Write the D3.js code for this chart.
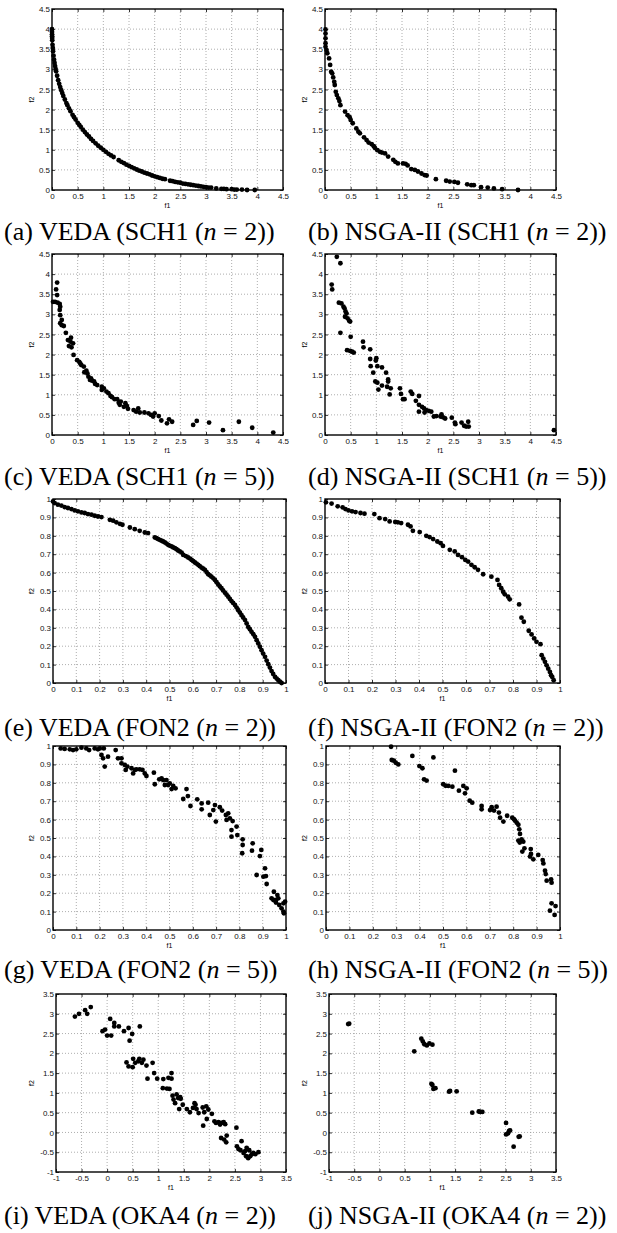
<!DOCTYPE html>
<html>
<head>
<meta charset="utf-8">
<script src="https://cdnjs.cloudflare.com/ajax/libs/d3/7.8.5/d3.min.js"></script>
<style>
body { margin: 0; background: #fff; }
</style>
</head>
<body>
<div id="chart"></div>
<script>
// ---- data: [f1, f2] pairs ----
const vedaSch1n2 = [
  [0,4.0],[0,3.93],[0.001,3.87],[0.002,3.82],[0.003,3.78],[0.005,3.72],[0.01,3.61],[0.015,3.53],[0.02,3.45],
  [0.03,3.34],[0.04,3.24],[0.05,3.16],[0.06,3.08],[0.07,3.01],[0.08,2.95],[0.1,2.84],[0.12,2.73],[0.14,2.64],
  [0.16,2.56],[0.18,2.48],[0.2,2.41],[0.22,2.34],[0.25,2.25],[0.28,2.16],[0.3,2.11],[0.33,2.03],[0.36,1.96],
  [0.4,1.87],[0.43,1.81],[0.46,1.75],[0.5,1.67],[0.53,1.62],[0.56,1.57],[0.6,1.5],[0.64,1.44],[0.68,1.38],
  [0.72,1.33],[0.76,1.27],[0.8,1.22],[0.85,1.16],[0.9,1.1],[0.95,1.05],[1.0,1.0],[1.05,0.95],[1.1,0.9],
  [1.15,0.86],[1.2,0.82],[1.3,0.74],[1.35,0.7],[1.4,0.67],[1.45,0.63],[1.5,0.6],[1.55,0.57],[1.6,0.54],
  [1.65,0.51],[1.7,0.48],[1.75,0.46],[1.8,0.43],[1.85,0.41],[1.9,0.39],[1.95,0.36],[2.0,0.34],[2.05,0.32],
  [2.1,0.3],[2.15,0.28],[2.2,0.27],[2.3,0.23],[2.35,0.22],[2.4,0.2],[2.45,0.19],[2.5,0.18],[2.55,0.16],
  [2.6,0.15],[2.65,0.14],[2.7,0.13],[2.75,0.12],[2.8,0.11],[2.85,0.1],[2.9,0.09],[2.95,0.08],[3.0,0.07],
  [3.05,0.06],[3.1,0.06],[3.2,0.04],[3.3,0.03],[3.35,0.03],[3.4,0.02],[3.5,0.02],[3.55,0.01],[3.6,0.01],
  [3.7,0.01],[3.8,0.0],[3.95,0.0]
];
const nsgaSch1n2 = [
  [0.01,3.99],[0.01,3.89],[0.01,3.77],[0.01,3.65],[0.01,3.56],[0.03,3.48],[0.045,3.4],[0.08,3.27],[0.1,3.11],
  [0.12,2.94],[0.14,2.9],[0.16,2.8],[0.18,2.69],[0.19,2.61],[0.21,2.44],[0.23,2.36],[0.26,2.28],[0.28,2.21],
  [0.3,2.11],[0.39,1.95],[0.44,1.86],[0.48,1.81],[0.5,1.74],[0.54,1.66],[0.61,1.53],[0.65,1.45],[0.68,1.41],
  [0.76,1.31],[0.81,1.24],[0.85,1.18],[0.91,1.14],[0.95,1.09],[0.97,1.05],[1.02,0.99],[1.07,0.95],[1.11,0.93],
  [1.17,0.91],[1.23,0.83],[1.33,0.75],[1.37,0.7],[1.42,0.66],[1.52,0.66],[1.57,0.65],[1.61,0.61],[1.68,0.52],
  [1.75,0.5],[1.81,0.46],[1.88,0.41],[1.94,0.37],[1.98,0.36],[2.16,0.27],[2.36,0.23],[2.43,0.21],[2.52,0.2],
  [2.59,0.18],[2.77,0.14],[2.85,0.12],[2.9,0.12],[3.04,0.07],[3.17,0.06],[3.29,0.04],[3.45,0.02],[3.76,0.0]
];
const vedaSch1n5 = [
  [0.1,3.79],[0.08,3.62],[0.1,3.48],[0.02,3.31],[0.06,3.31],[0.11,3.29],[0.15,3.26],[0.16,3.19],[0.15,3.11],
  [0.16,2.98],[0.19,2.86],[0.16,2.78],[0.19,2.73],[0.23,2.71],[0.27,2.54],[0.31,2.36],[0.36,2.32],[0.37,2.42],
  [0.33,2.21],[0.38,2.18],[0.41,2.28],[0.42,1.99],[0.49,1.86],[0.53,1.82],[0.55,1.78],[0.57,1.74],[0.62,1.7],
  [0.63,1.56],[0.67,1.6],[0.69,1.53],[0.71,1.45],[0.76,1.41],[0.78,1.35],[0.82,1.33],[0.84,1.27],[0.88,1.24],
  [0.74,1.37],[0.97,1.2],[0.97,1.12],[1.01,1.16],[1.06,1.08],[1.1,1.04],[1.14,0.97],[1.17,0.94],[1.22,0.89],
  [1.27,0.89],[1.3,0.8],[1.32,0.75],[1.34,0.83],[1.4,0.7],[1.43,0.79],[1.46,0.72],[1.48,0.65],[1.59,0.62],
  [1.64,0.58],[1.68,0.66],[1.71,0.56],[1.8,0.56],[1.88,0.54],[1.93,0.5],[1.97,0.46],[2.0,0.54],[2.08,0.47],
  [2.13,0.36],[2.24,0.29],[2.28,0.39],[2.34,0.33],[2.75,0.25],[2.82,0.35],[3.06,0.31],[3.33,0.12],[3.64,0.33],
  [3.9,0.18],[4.31,0.06]
];
const nsgaSch1n5 = [
  [0.23,4.43],[0.3,4.27],[0.13,3.74],[0.14,3.62],[0.27,3.29],[0.32,3.27],[0.36,3.19],[0.38,3.15],[0.4,3.07],
  [0.42,3.02],[0.39,2.94],[0.44,2.9],[0.47,2.84],[0.49,2.82],[0.3,2.54],[0.5,2.44],[0.43,2.11],[0.49,2.09],
  [0.53,2.07],[0.56,2.05],[0.74,2.32],[0.75,2.18],[0.88,2.13],[0.88,1.89],[0.89,1.71],[1.0,1.91],[0.99,1.85],
  [1.02,1.71],[0.94,1.55],[0.98,1.33],[1.02,1.3],[1.11,1.68],[1.19,1.55],[1.23,1.38],[1.23,1.33],[1.21,1.2],
  [1.28,1.16],[1.04,1.13],[1.11,1.23],[1.26,1.01],[1.46,1.16],[1.48,1.02],[1.52,0.89],[1.55,0.89],[1.67,1.08],
  [1.7,1.02],[1.77,0.85],[1.83,0.97],[1.83,0.75],[1.83,0.58],[1.89,0.7],[1.93,0.66],[1.94,0.56],[1.97,0.62],
  [2.02,0.6],[2.07,0.58],[2.12,0.46],[2.17,0.47],[2.25,0.46],[2.27,0.51],[2.3,0.44],[2.34,0.41],[2.47,0.43],
  [2.53,0.31],[2.54,0.27],[2.66,0.31],[2.71,0.23],[2.75,0.21],[2.8,0.21],[2.79,0.33],[4.46,0.12]
];
const vedaFon2n2 = [
  [0,0.987],[0.007,0.978],[0.021,0.969],[0.036,0.964],[0.05,0.956],[0.064,0.951],[0.079,0.945],[0.093,0.938],
  [0.107,0.933],[0.122,0.927],[0.136,0.924],[0.15,0.918],[0.165,0.915],[0.179,0.909],[0.193,0.905],[0.208,0.902],
  [0.244,0.887],[0.258,0.882],[0.272,0.873],[0.287,0.865],[0.298,0.86],[0.33,0.845],[0.351,0.836],[0.372,0.827],
  [0.394,0.818],[0.408,0.815],[0.437,0.791],[0.444,0.787],[0.451,0.782],[0.458,0.778],[0.466,0.773],[0.473,0.769],
  [0.48,0.764],[0.487,0.758],[0.494,0.751],[0.5,0.747],[0.509,0.742],[0.516,0.737],[0.523,0.733],[0.53,0.727],
  [0.537,0.72],[0.544,0.715],[0.552,0.709],[0.559,0.696],[0.57,0.69],[0.58,0.682],[0.588,0.676],[0.595,0.669],
  [0.602,0.662],[0.609,0.655],[0.616,0.649],[0.623,0.642],[0.63,0.635],[0.638,0.627],[0.645,0.621],[0.652,0.615],
  [0.659,0.603],[0.666,0.591],[0.673,0.585],[0.68,0.578],[0.688,0.569],[0.695,0.56],[0.702,0.548],[0.709,0.536],
  [0.716,0.525],[0.723,0.515],[0.73,0.503],[0.738,0.491],[0.745,0.48],[0.752,0.469],[0.759,0.457],[0.766,0.445],
  [0.773,0.435],[0.781,0.424],[0.788,0.41],[0.795,0.396],[0.802,0.383],[0.809,0.369],[0.816,0.356],[0.824,0.342],
  [0.831,0.324],[0.838,0.305],[0.845,0.292],[0.852,0.278],[0.86,0.265],[0.867,0.251],[0.874,0.233],[0.881,0.215],
  [0.888,0.197],[0.895,0.178],[0.902,0.16],[0.91,0.142],[0.917,0.122],[0.924,0.102],[0.931,0.084],[0.938,0.065],
  [0.945,0.049],[0.953,0.033],[0.96,0.024],[0.967,0.015],[0.974,0.007],[0.981,0.0]
];
const nsgaFon2n2 = [
  [0.004,0.982],[0.028,0.975],[0.054,0.96],[0.075,0.955],[0.087,0.945],[0.1,0.938],[0.115,0.933],[0.13,0.929],
  [0.151,0.924],[0.168,0.92],[0.21,0.918],[0.232,0.896],[0.256,0.891],[0.275,0.878],[0.299,0.875],[0.31,0.873],
  [0.324,0.869],[0.353,0.86],[0.364,0.851],[0.374,0.827],[0.403,0.82],[0.431,0.8],[0.445,0.793],[0.46,0.782],
  [0.478,0.769],[0.492,0.76],[0.502,0.745],[0.531,0.724],[0.552,0.715],[0.566,0.696],[0.583,0.684],[0.597,0.669],
  [0.609,0.66],[0.623,0.642],[0.637,0.629],[0.651,0.615],[0.673,0.591],[0.708,0.578],[0.734,0.56],[0.741,0.533],
  [0.75,0.515],[0.758,0.496],[0.765,0.482],[0.779,0.469],[0.786,0.455],[0.826,0.427],[0.836,0.355],[0.846,0.333],
  [0.867,0.284],[0.879,0.264],[0.89,0.242],[0.9,0.224],[0.917,0.211],[0.922,0.151],[0.929,0.133],[0.936,0.115],
  [0.943,0.096],[0.95,0.078],[0.957,0.06],[0.962,0.042],[0.967,0.033],[0.973,0.015]
];
const vedaFon2n5 = [
  [0.033,0.987],[0.05,0.984],[0.072,0.982],[0.086,0.978],[0.1,0.982],[0.122,0.991],[0.143,0.987],[0.155,0.978],
  [0.179,0.987],[0.193,0.982],[0.201,0.987],[0.218,0.987],[0.208,0.951],[0.215,0.933],[0.236,0.942],[0.222,0.888],
  [0.269,0.978],[0.279,0.933],[0.294,0.906],[0.294,0.933],[0.308,0.897],[0.312,0.87],[0.319,0.888],[0.337,0.879],
  [0.351,0.87],[0.344,0.851],[0.358,0.873],[0.372,0.873],[0.384,0.87],[0.394,0.851],[0.401,0.837],[0.433,0.855],
  [0.437,0.792],[0.456,0.819],[0.466,0.824],[0.473,0.815],[0.48,0.788],[0.487,0.815],[0.494,0.788],[0.501,0.797],
  [0.509,0.766],[0.516,0.783],[0.526,0.77],[0.559,0.712],[0.573,0.766],[0.579,0.728],[0.59,0.674],[0.619,0.71],
  [0.638,0.688],[0.638,0.656],[0.666,0.692],[0.673,0.625],[0.695,0.679],[0.688,0.652],[0.699,0.589],[0.716,0.667],
  [0.726,0.649],[0.742,0.625],[0.752,0.634],[0.745,0.598],[0.759,0.607],[0.771,0.592],[0.766,0.543],[0.766,0.507],
  [0.788,0.562],[0.791,0.516],[0.814,0.493],[0.814,0.462],[0.812,0.417],[0.857,0.471],[0.854,0.431],[0.888,0.402],
  [0.894,0.435],[0.91,0.335],[0.903,0.29],[0.914,0.293],[0.917,0.25],[0.874,0.299],[0.948,0.208],[0.938,0.172],
  [0.946,0.163],[0.957,0.163],[0.963,0.19],[0.967,0.172],[0.957,0.149],[0.971,0.136],[0.981,0.118],[0.989,0.1],
  [0.991,0.091],[0.989,0.145],[0.996,0.154]
];
const nsgaFon2n5 = [
  [0.278,0.996],[0.281,0.924],[0.29,0.92],[0.298,0.909],[0.309,0.9],[0.369,0.946],[0.399,0.891],[0.412,0.879],
  [0.419,0.819],[0.43,0.812],[0.459,0.938],[0.551,0.866],[0.501,0.792],[0.511,0.784],[0.523,0.783],[0.54,0.779],
  [0.568,0.757],[0.587,0.783],[0.601,0.77],[0.594,0.743],[0.614,0.703],[0.625,0.692],[0.665,0.674],[0.665,0.656],
  [0.701,0.652],[0.708,0.667],[0.718,0.649],[0.729,0.67],[0.739,0.638],[0.744,0.61],[0.758,0.589],[0.774,0.621],
  [0.796,0.61],[0.803,0.603],[0.808,0.594],[0.815,0.583],[0.822,0.572],[0.826,0.547],[0.829,0.522],[0.822,0.486],
  [0.828,0.475],[0.836,0.493],[0.843,0.48],[0.839,0.426],[0.848,0.444],[0.875,0.44],[0.876,0.413],[0.872,0.399],
  [0.886,0.384],[0.907,0.408],[0.926,0.38],[0.929,0.362],[0.936,0.322],[0.939,0.304],[0.943,0.268],[0.962,0.275],
  [0.964,0.257],[0.964,0.145],[0.981,0.13],[0.957,0.105],[0.977,0.082]
];
const vedaOka4n2 = [
  [-0.63,2.93],[-0.55,3.0],[-0.43,3.09],[-0.39,3.0],[-0.32,3.17],[-0.09,2.56],[-0.04,2.6],[0.06,2.87],[0.0,2.45],
  [0.08,2.45],[0.14,2.77],[0.14,2.68],[0.23,2.68],[0.33,2.56],[0.42,2.64],[0.44,2.32],[0.49,2.49],[0.64,2.68],
  [0.38,1.77],[0.42,1.67],[0.5,1.65],[0.51,1.86],[0.55,1.76],[0.61,1.8],[0.63,1.86],[0.68,1.76],[0.71,1.84],
  [0.77,1.69],[0.89,1.76],[0.79,1.36],[0.92,1.5],[0.98,1.36],[1.1,1.35],[1.09,1.12],[1.17,1.11],[1.22,1.1],
  [1.2,1.38],[1.26,1.36],[1.26,1.5],[1.28,0.93],[1.3,0.83],[1.33,0.74],[1.36,0.96],[1.39,0.87],[1.43,0.89],
  [1.44,0.85],[1.48,0.7],[1.41,0.59],[1.56,0.59],[1.62,0.51],[1.68,0.62],[1.71,0.74],[1.73,0.7],[1.75,0.59],
  [1.79,0.49],[1.87,0.63],[1.9,0.51],[1.94,0.66],[1.98,0.58],[1.95,0.34],[1.88,0.17],[2.05,0.47],[2.1,0.28],
  [2.13,0.24],[2.18,0.26],[2.24,0.24],[2.28,0.26],[2.31,0.21],[2.21,0.2],[2.53,0.12],[2.23,-0.14],[2.29,-0.18],
  [2.33,-0.25],[2.34,-0.08],[2.54,-0.35],[2.57,-0.42],[2.61,-0.45],[2.63,-0.22],[2.67,-0.52],[2.7,-0.47],
  [2.72,-0.6],[2.76,-0.65],[2.8,-0.6],[2.83,-0.55],[2.86,-0.52],[2.9,-0.55],[2.96,-0.5],[2.73,-0.39],[2.78,-0.45]
];
const nsgaOka4n2 = [
  [-0.62,2.74],[-0.6,2.75],[0.69,2.05],[0.83,2.37],[0.86,2.3],[0.89,2.23],[0.94,2.2],[0.99,2.25],[1.05,2.22],
  [1.03,1.23],[1.05,1.2],[1.07,1.1],[1.11,1.12],[1.38,1.03],[1.4,1.05],[1.53,1.04],[1.84,0.5],[1.97,0.53],
  [2.0,0.52],[2.04,0.52],[2.51,0.24],[2.51,-0.05],[2.55,-0.02],[2.57,0.04],[2.59,0.05],[2.66,-0.36],
  [2.76,-0.11],[2.78,-0.1]
];

// captions
const labels = ["a","b","c","d","e","f","g","h","i","j"];
const methods = ["VEDA","NSGA-II","VEDA","NSGA-II","VEDA","NSGA-II","VEDA","NSGA-II","VEDA","NSGA-II"];
const problems = ["SCH1","SCH1","SCH1","SCH1","FON2","FON2","FON2","FON2","OKA4","OKA4"];
const nValues = [2,2,5,5,2,2,5,5,2,2];

// axis ticks
const ticksSch = [0,0.5,1,1.5,2,2.5,3,3.5,4,4.5];
const ticksFon = [0,0.1,0.2,0.3,0.4,0.5,0.6,0.7,0.8,0.9,1];
const ticksOka = [-1,-0.5,0,0.5,1,1.5,2,2.5,3,3.5];

const series = [vedaSch1n2, nsgaSch1n2, vedaSch1n5, nsgaSch1n5, vedaFon2n2, nsgaFon2n2,
                vedaFon2n5, nsgaFon2n5, vedaOka4n2, nsgaOka4n2];
const tickSets = [ticksSch, ticksSch, ticksSch, ticksSch, ticksFon, ticksFon, ticksFon, ticksFon, ticksOka, ticksOka];

// plot boxes (layout)
const boxes = [
  {x: 52, y: 9, w: 231, h: 181}, {x: 325, y: 9, w: 231, h: 181},
  {x: 52, y: 254, w: 231, h: 181}, {x: 325, y: 254, w: 231, h: 181},
  {x: 53, y: 499, w: 233, h: 184}, {x: 325, y: 499, w: 235, h: 184},
  {x: 53, y: 746, w: 233, h: 184}, {x: 326, y: 746, w: 234, h: 184},
  {x: 56, y: 994, w: 230, h: 178}, {x: 329, y: 994, w: 227, h: 178}
];
const capBase = [240, 240, 485, 485, 736, 736, 978, 978, 1224, 1224];

const svg = d3.select("#chart").append("svg")
  .attr("width", 617)
  .attr("height", 1233);

const tickFont = "'Liberation Sans', Arial, sans-serif";

series.forEach((pts, i) => {
  const b = boxes[i];
  const ticks = tickSets[i];
  const dom = [ticks[0], ticks[ticks.length - 1]];
  const x = d3.scaleLinear().domain(dom).range([b.x, b.x + b.w]);
  const y = d3.scaleLinear().domain(dom).range([b.y + b.h, b.y]);
  const g = svg.append("g");

  // dotted grid
  g.append("g").selectAll("line").data(ticks.slice(1, -1)).enter().append("line")
    .attr("x1", d => x(d)).attr("x2", d => x(d))
    .attr("y1", b.y).attr("y2", b.y + b.h)
    .attr("stroke", "#999").attr("stroke-width", 0.8).attr("stroke-dasharray", "1,2");
  g.append("g").selectAll("line").data(ticks.slice(1, -1)).enter().append("line")
    .attr("y1", d => y(d)).attr("y2", d => y(d))
    .attr("x1", b.x).attr("x2", b.x + b.w)
    .attr("stroke", "#999").attr("stroke-width", 0.8).attr("stroke-dasharray", "1,2");

  // axes, inward ticks on all sides
  const fmt = d => String(d);
  const bottom = g.append("g").attr("transform", `translate(0,${b.y + b.h})`)
    .call(d3.axisBottom(x).tickValues(ticks).tickSize(-3).tickPadding(3).tickFormat(fmt));
  const left = g.append("g").attr("transform", `translate(${b.x},0)`)
    .call(d3.axisLeft(y).tickValues(ticks).tickSize(-3).tickPadding(2).tickFormat(fmt));
  const top = g.append("g").attr("transform", `translate(0,${b.y})`)
    .call(d3.axisTop(x).tickValues(ticks).tickSize(-3).tickFormat(""));
  const right = g.append("g").attr("transform", `translate(${b.x + b.w},0)`)
    .call(d3.axisRight(y).tickValues(ticks).tickSize(-3).tickFormat(""));
  [bottom, left, top, right].forEach(a => {
    a.select(".domain").remove();
    a.selectAll("line").attr("stroke", "#000").attr("stroke-width", 0.8);
    a.selectAll("text").attr("font-family", tickFont).attr("font-size", 8).attr("fill", "#111");
  });

  // points
  g.append("g").selectAll("circle").data(pts).enter().append("circle")
    .attr("cx", d => x(d[0]))
    .attr("cy", d => y(d[1]))
    .attr("r", 2.4)
    .attr("fill", "#000");

  // frame
  g.append("rect")
    .attr("x", b.x).attr("y", b.y).attr("width", b.w).attr("height", b.h)
    .attr("fill", "none").attr("stroke", "#000").attr("stroke-width", 1.4);

  // axis names
  g.append("text")
    .attr("x", b.x + b.w / 2).attr("y", b.y + b.h + 18)
    .attr("text-anchor", "middle")
    .attr("font-family", tickFont).attr("font-size", 7)
    .text("f1");
  const lx = i % 2 === 0 ? 32 : 305;
  g.append("text")
    .attr("transform", `translate(${lx},${b.y + b.h / 2}) rotate(-90)`)
    .attr("text-anchor", "middle")
    .attr("dy", "0.35em")
    .attr("font-family", tickFont).attr("font-size", 7)
    .text("f2");

  // caption
  const cap = svg.append("text")
    .attr("x", i % 2 === 0 ? 4 : 308)
    .attr("y", capBase[i])
    .attr("font-family", "'Liberation Serif', 'Times New Roman', serif")
    .attr("font-size", 26)
    .attr("fill", "#000");
  cap.append("tspan").text(`(${labels[i]}) ${methods[i]} (${problems[i]} (`);
  cap.append("tspan").attr("font-style", "italic").text("n");
  cap.append("tspan").text(` = ${nValues[i]}))`);
});
</script>
</body>
</html>
